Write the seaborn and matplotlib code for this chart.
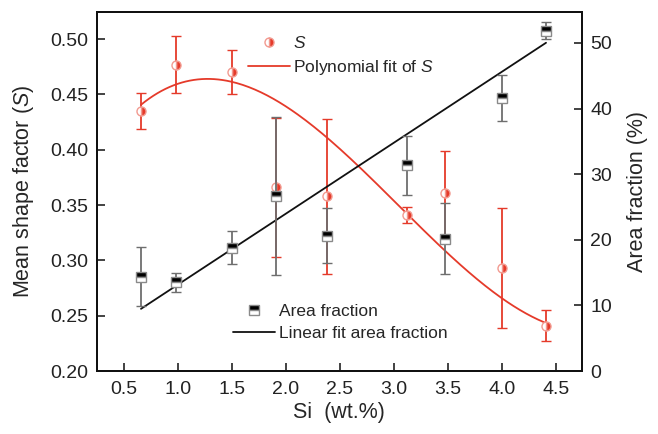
import numpy as np
import pandas as pd
import seaborn as sns
import matplotlib.pyplot as plt
from matplotlib.lines import Line2D
from matplotlib.ticker import FormatStrFormatter

# values
si = [0.66, 0.98, 1.50, 1.91, 2.38, 3.12, 3.47, 4.00, 4.41]
shape_factor = [0.435, 0.477, 0.470, 0.366, 0.358, 0.341, 0.361, 0.293, 0.241]
shape_err = [0.016, 0.026, 0.020, 0.063, 0.070, 0.007, 0.038, 0.054, 0.014]
area_fraction = [14.4, 13.5, 18.8, 26.7, 20.6, 31.4, 20.2, 41.6, 51.9]
area_err = [4.5, 1.5, 2.5, 12.0, 4.2, 4.5, 5.4, 3.5, 1.3]

RED = '#e53a2a'
RED_LIGHT = '#f29a90'
GREY = '#6e6e6e'

sns.set_style('ticks')
plt.rcParams['font.family'] = ['Liberation Sans', 'DejaVu Sans']
plt.rcParams['mathtext.fontset'] = 'custom'
plt.rcParams['mathtext.rm'] = 'Liberation Sans'
plt.rcParams['mathtext.it'] = 'Liberation Sans:italic'

# weighted fits (cubic for S, linear for area fraction)
coef_s = np.polyfit(si, shape_factor, 3, w=1 / np.array(shape_err))
coef_a = np.polyfit(si, area_fraction, 1, w=1 / np.array(area_err))
x_fit = np.linspace(min(si), max(si), 200)
fit_df = pd.DataFrame({'si': x_fit,
                       's': np.polyval(coef_s, x_fit),
                       'area': np.polyval(coef_a, x_fit)})

fig = plt.figure(figsize=(6.58, 4.34), dpi=100)
ax = fig.add_axes([0.147, 0.145, 0.737, 0.827])
ax2 = ax.twinx()

# shape factor
sns.lineplot(data=fit_df, x='si', y='s', ax=ax, color=RED, lw=1.3)
ax.errorbar(si, shape_factor, yerr=shape_err, fmt='o', ms=6.5, color=RED,
            ecolor=RED, elinewidth=1.3, capsize=3.5, capthick=1.3,
            fillstyle='right', markerfacecolor=RED, markerfacecoloralt='white',
            markeredgecolor=RED_LIGHT, markeredgewidth=1.0)

# area fraction
sns.lineplot(data=fit_df, x='si', y='area', ax=ax2, color='#111111', lw=1.3)
ax2.errorbar(si, area_fraction, yerr=area_err, fmt='s', ms=6.5, color='black',
             ecolor=GREY, elinewidth=1.3, capsize=3.5, capthick=1.3,
             fillstyle='top', markerfacecolor='black', markerfacecoloralt='white',
             markeredgecolor='#8a8a8a', markeredgewidth=1.0)

ax.set_xlim(0.25, 4.74)
ax.set_ylim(0.20, 0.5244)
ax2.set_ylim(0, 54.7)
ax.set_xticks(np.arange(0.5, 4.51, 0.5))
ax.set_yticks(np.arange(0.20, 0.501, 0.05))
ax2.set_yticks(range(0, 51, 10))
ax.xaxis.set_major_formatter(FormatStrFormatter('%.1f'))
ax.yaxis.set_major_formatter(FormatStrFormatter('%.2f'))

ax.set_xlabel('Si  (wt.%)', fontsize=15.5, labelpad=3)
ax.set_ylabel('Mean shape factor ($S$)', fontsize=15.5, labelpad=10)
ax2.set_ylabel('Area fraction (%)', fontsize=15.5, labelpad=11)

for a in (ax, ax2):
    a.tick_params(direction='in', length=6, width=1.2, labelsize=14, pad=6, colors='#222222')
    for sp in a.spines.values():
        sp.set_linewidth(1.4)
        sp.set_color('#111111')
ax.tick_params(axis='x', pad=7)

s_handles = [Line2D([], [], marker='o', ls='none', ms=6.5, fillstyle='right',
                    markerfacecolor=RED, markerfacecoloralt='white',
                    markeredgecolor=RED_LIGHT, markeredgewidth=1.0),
             Line2D([], [], color=RED, lw=1.3)]
ax.legend(s_handles, ['$S$', 'Polynomial fit of $S$'], loc='upper left',
          bbox_to_anchor=(0.312, 0.936), frameon=False, fontsize=12.5,
          borderpad=0, borderaxespad=0, handlelength=2.4, handletextpad=0.2,
          labelspacing=0.4)

a_handles = [Line2D([], [], marker='s', ls='none', ms=6.5, fillstyle='top',
                    markerfacecolor='black', markerfacecoloralt='white',
                    markeredgecolor='#8a8a8a', markeredgewidth=1.0),
             Line2D([], [], color='#111111', lw=1.3)]
ax2.legend(a_handles, ['Area fraction', 'Linear fit area fraction'], loc='upper left',
           bbox_to_anchor=(0.282, 0.187), frameon=False, fontsize=12.5,
           borderpad=0, borderaxespad=0, handlelength=2.4, handletextpad=0.25,
           labelspacing=0.4)

plt.savefig('out.png', dpi=100)
